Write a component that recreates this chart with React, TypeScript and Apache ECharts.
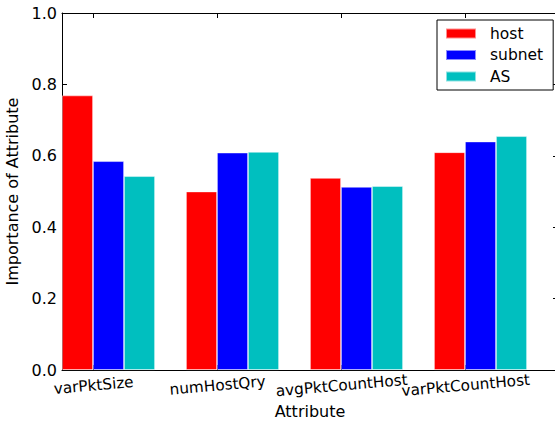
import React, { useEffect, useRef } from "react";
import * as echarts from "echarts";

const categories = ["varPktSize", "numHostQry", "avgPktCountHost", "varPktCountHost"];
const hostValues = [0.769, 0.5, 0.538, 0.61];
const subnetValues = [0.585, 0.609, 0.513, 0.64];
const asValues = [0.543, 0.611, 0.515, 0.655];
const seriesNames = ["host", "subnet", "AS"];
const seriesColors = ["#ff0000", "#0000ff", "#00bfbf"];

const FONT = "DejaVu Sans";

export default function App() {
  const ref = useRef<HTMLDivElement>(null);
  useEffect(() => {
    if (!ref.current) return;
    const chart = echarts.init(ref.current, undefined, { renderer: "svg" });
    const allValues = [hostValues, subnetValues, asValues];
    // bar offsets relative to label position (category tick at host bar's right edge)
    const offsets = [-0.125, 0.125, 0.375];
    const tickPositions = categories.map((_, i) => i);
    const evenTicks = tickPositions.filter((i) => i % 2 === 0);
    const oddTicks = tickPositions.filter((i) => i % 2 === 1);
    const series = allValues.map((vals, s) => ({
      name: seriesNames[s],
      type: "bar",
      xAxisIndex: 0,
      yAxisIndex: 0,
      data: vals.map((v, i) => [i + offsets[s], v]),
      barWidth: 31,
      barGap: "-100%",
      itemStyle: {
        color: seriesColors[s],
        borderColor: "rgba(255,255,255,0.55)",
        borderWidth: 0.8,
      },
    }));
    const labelStyle = (values: number[]) => ({
      customValues: values,
      formatter: (v: number) => categories[Math.round(v)] ?? "",
      rotate: 5,
      align: "center",
      verticalAlign: "top",
      margin: 8,
      hideOverlap: false,
      showMinLabel: true,
      showMaxLabel: true,
      fontFamily: FONT,
      fontSize: 15.3,
      color: "#000",
    });
    chart.setOption({
      animation: false,
      textStyle: { fontFamily: FONT },
      grid: { left: 62, right: -3, top: 13, bottom: 52, containLabel: false, outerBoundsMode: "none" },
      legend: {
        orient: "vertical",
        left: 437,
        top: 20,
        padding: [5, 10, 5, 8],
        itemGap: 4.5,
        itemWidth: 30,
        itemHeight: 10,
        borderColor: "#000",
        borderWidth: 1,
        borderRadius: 0,
        backgroundColor: "#fff",
        icon: "rect",
        data: seriesNames,
        textStyle: {
          fontFamily: FONT,
          fontSize: 15.5,
          color: "#000",
          lineHeight: 17,
          padding: [0, 0, 0, 9],
        },
      },
      xAxis: [
        {
          type: "value",
          min: -0.25,
          max: 3.75,
          position: "bottom",
          name: "Attribute",
          nameLocation: "middle",
          nameGap: 33,
          nameTextStyle: { fontFamily: FONT, fontSize: 16, color: "#000" },
          axisLine: { show: true, onZero: false, lineStyle: { color: "#000", width: 1 } },
          axisTick: { show: true, inside: true, length: 5, customValues: tickPositions, lineStyle: { color: "#000" } },
          axisLabel: labelStyle(evenTicks),
          splitLine: { show: false },
        },
        {
          type: "value",
          min: -0.25,
          max: 3.75,
          position: "top",
          axisLine: { show: true, onZero: false, lineStyle: { color: "#000", width: 1 } },
          axisTick: { show: true, inside: true, length: 5, customValues: tickPositions, lineStyle: { color: "#000" } },
          axisLabel: { show: false },
          splitLine: { show: false },
        },
        {
          type: "value",
          min: -0.25,
          max: 3.75,
          position: "bottom",
          offset: 0,
          axisLine: { show: false, onZero: false },
          axisTick: { show: false },
          axisLabel: labelStyle(oddTicks),
          splitLine: { show: false },
        },
      ],
      yAxis: [
        {
          type: "value",
          min: 0,
          max: 1,
          interval: 0.2,
          name: "Importance of Attribute",
          nameLocation: "middle",
          nameGap: 36,
          nameTextStyle: { fontFamily: FONT, fontSize: 16, color: "#000" },
          axisLine: { show: true, onZero: false, lineStyle: { color: "#000", width: 1 } },
          axisTick: { show: true, inside: true, length: 5, lineStyle: { color: "#000" } },
          axisLabel: {
            formatter: (v: number) => v.toFixed(1),
            margin: 5,
            fontFamily: FONT,
            fontSize: 16,
            color: "#000",
          },
          splitLine: { show: false },
        },
        {
          type: "value",
          min: 0,
          max: 1,
          interval: 0.2,
          position: "right",
          axisLine: { show: true, onZero: false, lineStyle: { color: "#000", width: 1 } },
          axisTick: { show: true, inside: true, length: 5, lineStyle: { color: "#000" } },
          axisLabel: { show: false },
          splitLine: { show: false },
        },
      ],
      series,
    });
    return () => chart.dispose();
  }, []);
  return (
    <div
      ref={ref}
      style={{ position: "fixed", left: 0, top: 0, width: 555, height: 422, background: "#fff" }}
    />
  );
}
